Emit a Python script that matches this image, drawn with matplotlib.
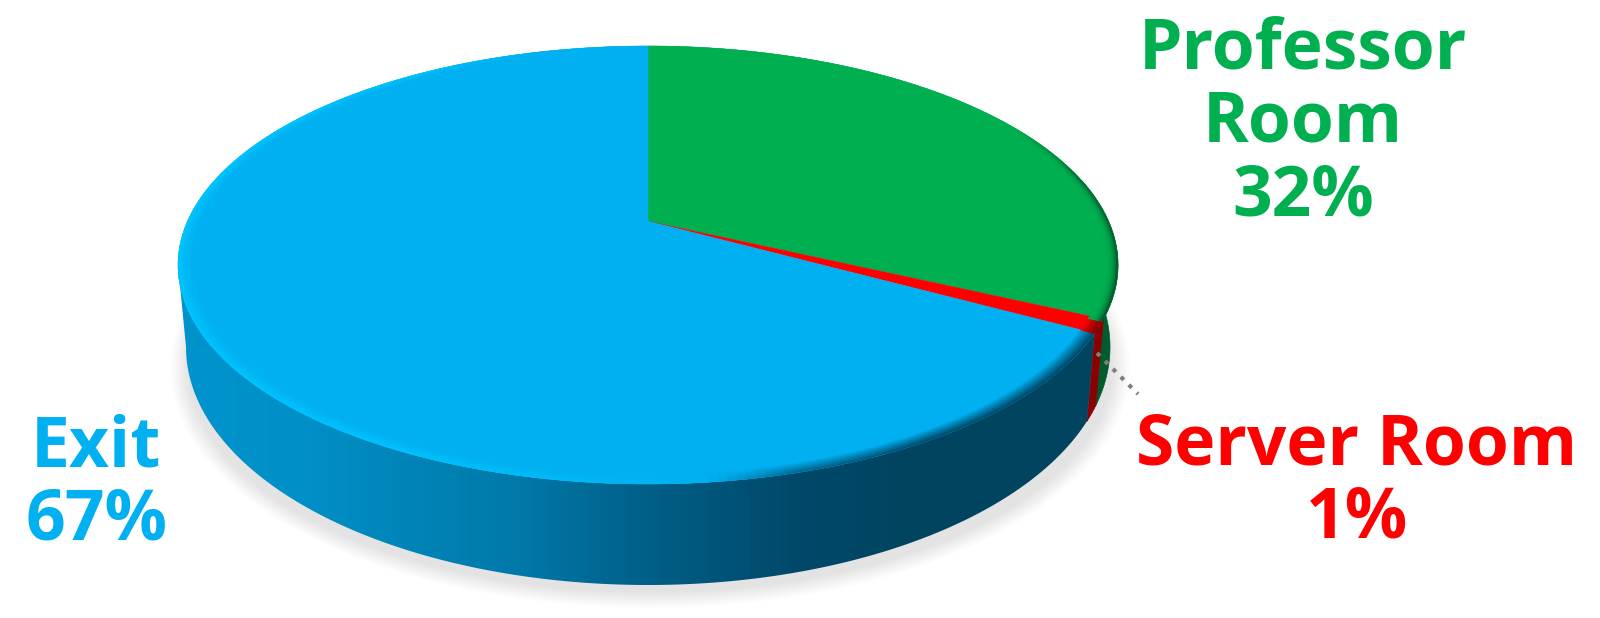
import numpy as np
import matplotlib
matplotlib.use('Agg')
import matplotlib.pyplot as plt
from matplotlib.collections import PolyCollection
from matplotlib.colors import LinearSegmentedColormap, to_rgb
from matplotlib.patches import Ellipse, Polygon

# slices clockwise from 12 o'clock
labels = ['Professor\nRoom', 'Server Room', 'Exit']
shares = [32, 1, 67]
colors = ['#00B050', '#FF0000', '#00B0F0']
side_colors = ['#005C2C', '#8A0000', '#005A80']

plt.rcParams['font.family'] = ['Open Sans', 'DejaVu Sans']

W, H = 1600, 618
TOP = (648, 265, 470, 219)     # ellipse of the pie's top face
BOTTOM = (648, 347, 462, 238)  # ellipse of the pie's bottom edge
P = 0.2                        # perspective shift of the centre


def project(r, theta, ell):
    # point at radius r, angle theta (degrees clockwise from top), in perspective
    cx, cy, rx, ry = ell
    t = np.radians(theta)
    u, v = r * np.sin(t), r * np.cos(t)
    d = 1 + P * v
    return cx + rx * u * np.sqrt(1 - P ** 2) / d, cy - ry * (v + P) / d


def arc(a, b, ell, r=1.0):
    x, y = project(r, np.linspace(a, b, 200), ell)
    return np.column_stack([x, y])


def blend(c1, c2, w):
    c1, c2 = np.array(to_rgb(c1)), np.array(to_rgb(c2))
    return tuple(c1 + (c2 - c1) * w)


fig = plt.figure(figsize=(W / 100, H / 100), dpi=100)
ax = fig.add_axes([0, 0, 1, 1])

# soft shadow under the pie
for i in range(14):
    ax.add_patch(Ellipse((650, 368), 2 * (480 - i * 1.4), 2 * (240 - i * 1.2),
                         fc='k', ec='none', alpha=0.0095, zorder=1))

edges = np.cumsum([0] + shares) * 3.6
LEFT_END = 258.5
RIGHT_END = 78.5

# side of the pie, green and red plain, blue with dark-to-light gradient
for i in [0, 1]:
    a, b = max(edges[i], RIGHT_END), edges[i + 1]
    pts = np.vstack([arc(a, b, TOP), arc(b, a, BOTTOM)])
    ax.add_patch(Polygon(pts, fc=side_colors[i], ec=side_colors[i], lw=0.5, zorder=2))

a, b = edges[2], LEFT_END
side = Polygon(np.vstack([arc(a, b, TOP), arc(b, a, BOTTOM)]), fc='none', ec='none', zorder=3)
ax.add_patch(side)
stops = [(0.0, '#0094CC'), (0.14, '#0090C8'), (0.30, '#0080B2'), (0.38, '#0078A8'),
         (0.52, '#005E86'), (0.68, '#00486A'), (0.80, '#00445F'), (1.0, '#00445F')]
cmap = LinearSegmentedColormap.from_list('side', stops)
im = ax.imshow(np.linspace(0, 1, 512).reshape(1, -1), cmap=cmap, aspect='auto',
               extent=(170, 1100, 600, 250), zorder=3)
im.set_clip_path(side)

# top face
apex = project(0.0, 0.0, TOP)
for i in range(3):
    pts = np.vstack([[apex], arc(edges[i], edges[i + 1], TOP)])
    ax.add_patch(Polygon(pts, fc=colors[i], ec=colors[i], lw=0.3, zorder=4))

# bevel round the rim of the top face
rim_angles = [0, 60, 78, 115.2, 118.8, 150, 165, 174, 186, 205, 290, 325, 345, 360]
rim_weight = [0, 0, 0.8, 1.0, 1.0, 1.0, 0.7, 0, 0.4, 0.9, 1.0, 0.8, 0, 0]
quads, quad_colors = [], []
radii = np.linspace(0.972, 1.0, 8)
for th in np.arange(0, 360, 1.0):
    power = 1
    if th < edges[1]:
        base, dark = colors[0], side_colors[0]
        power = 3    # thinner dark edge on the green slice
    elif th < edges[2]:
        base, dark = colors[1], side_colors[1]
    else:
        base = colors[2]
        dark = '#004A6C' if th < 174 else '#00C4FF'
    w = np.interp(th + 0.5, rim_angles, rim_weight)
    for r0, r1 in zip(radii[:-1], radii[1:]):
        x0, y0 = project(r0, th, TOP)
        x1, y1 = project(r1, th, TOP)
        x2, y2 = project(r1, th + 1, TOP)
        x3, y3 = project(r0, th + 1, TOP)
        quads.append([(x0, y0), (x1, y1), (x2, y2), (x3, y3)])
        quad_colors.append(blend(base, dark, w * ((r1 - radii[0]) / (1 - radii[0])) ** power))
ax.add_collection(PolyCollection(quads, facecolors=quad_colors, edgecolors=quad_colors,
                                 linewidths=0.3, zorder=5))

# leader line for the small slice
ax.plot([1097, 1138], [353, 394], color='#7F7F7F', lw=3, ls=(0, (1, 1.7)), zorder=6)

# labels
ax.text(1303, 124, f'{labels[0]}\n{shares[0]}%', color=colors[0], fontsize=50, fontweight='bold',
        ha='center', va='center', linespacing=1.07, zorder=7)
ax.text(1357, 483, f'{labels[1]}\n{shares[1]}%', color=colors[1], fontsize=50, fontweight='bold',
        ha='center', va='center', linespacing=1.07, zorder=7)
ax.text(96, 485, f'{labels[2]}\n{shares[2]}%', color=colors[2], fontsize=50, fontweight='bold',
        ha='center', va='center', linespacing=1.07, zorder=7)

ax.set_xlim(0, W)
ax.set_ylim(H, 0)
ax.axis('off')
fig.savefig('out.png', dpi=100, facecolor='white')
